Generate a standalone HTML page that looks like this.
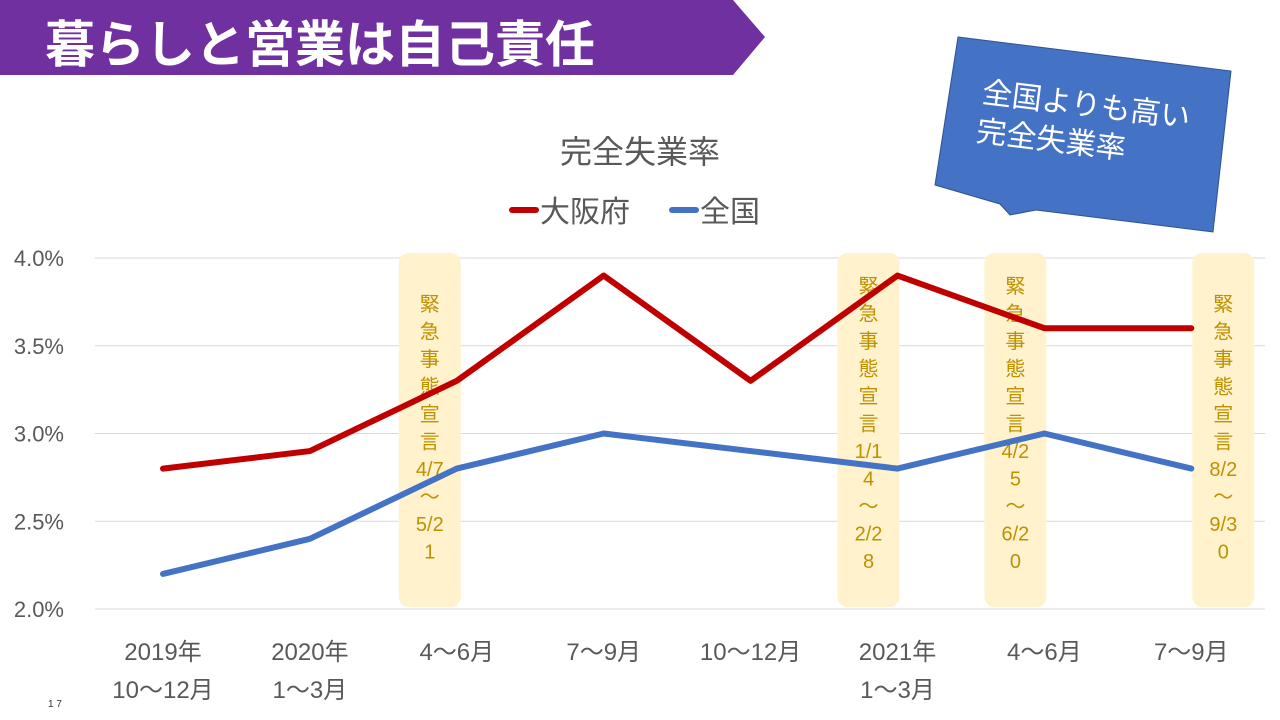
<!DOCTYPE html>
<html><head><meta charset="utf-8"><style>
body{margin:0;width:1280px;height:720px;overflow:hidden;background:#fff;font-family:"Liberation Sans","Noto Sans CJK JP",sans-serif}
</style></head><body>
<svg width="1280" height="720" style="position:absolute;left:0;top:0">
<polygon points="0,0 733,0 765,37 733,75 0,75" fill="#7030a0"/>
<text x="45" y="62" font-size="50" font-weight="bold" fill="#fff" font-family="Liberation Sans,Noto Sans CJK JP,sans-serif">暮らしと営業は自己責任</text>
<g>
<polygon points="958,37 1231,71 1213,232 1036,210 1010,215 1000,204 935,185" fill="#4472c4" stroke="#2f528f" stroke-width="1"/>
<text x="1085" y="115" font-size="30" fill="#fff" text-anchor="middle" transform="rotate(7 1085 115)" font-family="Liberation Sans,Noto Sans CJK JP,sans-serif">全国よりも高い</text>
<text x="1050" y="150" font-size="30" fill="#fff" text-anchor="middle" transform="rotate(7 1050 150)" font-family="Liberation Sans,Noto Sans CJK JP,sans-serif">完全失業率</text>
</g>
<text x="640" y="163" font-size="32" fill="#595959" text-anchor="middle" font-family="Liberation Sans,Noto Sans CJK JP,sans-serif">完全失業率</text>
<g font-size="30" fill="#595959" font-family="Liberation Sans,Noto Sans CJK JP,sans-serif">
<line x1="512" y1="210" x2="536" y2="210" stroke="#c00000" stroke-width="6" stroke-linecap="round"/>
<text x="540" y="222">大阪府</text>
<line x1="672" y1="210" x2="696" y2="210" stroke="#4472c4" stroke-width="6" stroke-linecap="round"/>
<text x="700" y="222">全国</text>
</g>
<g id="grid"></g><g id="boxes"></g><g id="lines"></g><g id="labels"></g>
<text x="48" y="707" font-size="10" fill="#333">1 7</text>
</svg>
<script>
const categories=[["2019年","10～12月"],["2020年","1～3月"],["4～6月"],["7～9月"],["10～12月"],["2021年","1～3月"],["4～6月"],["7～9月"]];
const osaka=[2.8,2.9,3.3,3.9,3.3,3.9,3.6,3.6];
const national=[2.2,2.4,2.8,3.0,2.9,2.8,3.0,2.8];
const yTicks=[2.0,2.5,3.0,3.5,4.0];
const yTickLabels=["2.0%","2.5%","3.0%","3.5%","4.0%"];
const emergencyIdx=[2,5,6,7];
const emergencyText=[["緊","急","事","態","宣","言","4/7","～","5/2","1"],["緊","急","事","態","宣","言","1/1","4","～","2/2","8"],["緊","急","事","態","宣","言","4/2","5","～","6/2","0"],["緊","急","事","態","宣","言","8/2","～","9/3","0"]];
const NS="http://www.w3.org/2000/svg";
const x=i=>163+i*146.9, y=v=>609-(v-2)*175.5;
function mk(p,t,a){const e=document.createElementNS(NS,t);for(const k in a)e.setAttribute(k,a[k]);document.getElementById(p).appendChild(e);return e;}
yTicks.forEach((v,i)=>{
 const l=mk('grid','line',{x1:95,x2:1265,y1:y(v),y2:y(v),stroke:'#d9d9d9','stroke-width':1});
 
 
 const t=mk('labels','text',{x:64,y:y(v)+8,'font-size':22,fill:'#595959','text-anchor':'end'});
 
 
 t.textContent=yTickLabels[i];
});
categories.forEach((c,i)=>c.forEach((s,j)=>{
 const t=mk('labels','text',{x:x(i),y:660+j*38,'font-size':24,fill:'#595959','text-anchor':'middle'});
 
 
 t.textContent=s;
}));
emergencyIdx.forEach((ci,k)=>{
 let cx=(ci===2)?x(2)-27:(ci===7?x(7)+32:x(ci)-29);
 const r=mk('boxes','rect',{x:cx-31,y:253,width:62,height:354,rx:10,fill:'#fff2cc'});
 
 
 const txt=emergencyText[k];const y0=(txt.length>=11)?293:311;
 txt.forEach((s,j)=>{
  const t=mk('boxes','text',{x:cx,y:y0+j*27.5,'font-size':20,fill:'#bf9000','text-anchor':'middle'});
  
  
  t.textContent=s;
 });
});
[[osaka,'#c00000','osaka-line'],[national,'#4472c4','national-line']].forEach(([d,c,n])=>{
 const p=mk('lines','polyline',{points:d.map((v,i)=>x(i)+','+y(v)).join(' '),fill:'none',stroke:c,'stroke-width':6,'stroke-linejoin':'round','stroke-linecap':'round'});
 
 
});
</script>
</body></html>
